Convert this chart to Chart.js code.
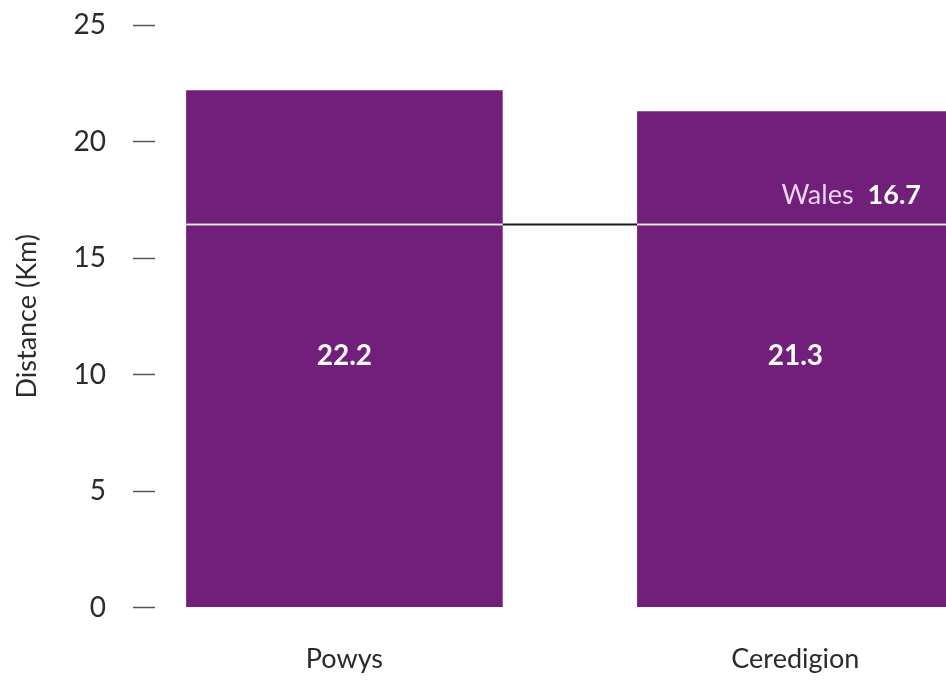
<!DOCTYPE html>
<html>
<head>
<meta charset="utf-8">
<script src="https://cdn.jsdelivr.net/npm/chart.js@4.4.1/dist/chart.umd.min.js"></script>
<style>
  html, body { margin: 0; padding: 0; background: #fff; overflow: hidden; }
  #wrap { width: 946px; height: 681px; }
</style>
</head>
<body>
<div id="wrap"><canvas id="distChart"></canvas></div>
<script>
// data
const areas = ['Powys', 'Ceredigion'];
const distances = [22.2, 21.3];
const walesAvg = [16.45];       // where the line sits on the picture
const walesText = ['16.7'];     // what the label says
const yTicks = [0, 5, 10, 15, 20, 25];

const purple = '#711f7b';
const font = 'Lato, "Open Sans", sans-serif';

// wales line + labels inside bars
const barLabels = {
  id: 'barLabels',
  afterDatasetsDraw(chart) {
    const ctx = chart.ctx;
    const y = chart.scales.y;
    const bars = chart.getDatasetMeta(0).data;
    const ly = Math.round(y.getPixelForValue(walesAvg[0])) + 0.5;
    const first = bars[0], last = bars[bars.length - 1];
    const area = chart.chartArea;

    ctx.save();
    // black line between bars
    ctx.lineWidth = 2;
    ctx.strokeStyle = '#1a1a1a';
    ctx.beginPath();
    ctx.moveTo(first.x - first.width / 2, ly);
    ctx.lineTo(Math.min(last.x + last.width / 2, area.right), ly);
    ctx.stroke();
    // white over the bars
    ctx.strokeStyle = '#f3e6f4';
    bars.forEach(b => {
      ctx.beginPath();
      ctx.moveTo(b.x - b.width / 2, ly);
      ctx.lineTo(Math.min(b.x + b.width / 2, area.right), ly);
      ctx.stroke();
    });

    // value labels
    ctx.fillStyle = '#ffffff';
    ctx.textAlign = 'center';
    ctx.textBaseline = 'middle';
    ctx.font = 'bold 28px ' + font;
    bars.forEach((b, i) => {
      ctx.fillText(distances[i].toFixed(1), b.x, y.getPixelForValue(10.8));
    });

    // Wales label
    ctx.textAlign = 'right';
    ctx.textBaseline = 'alphabetic';
    ctx.font = 'bold 27px ' + font;
    const rx = area.right - 25;
    ctx.fillText(walesText[0], rx, ly - 21);
    const w = ctx.measureText(walesText[0]).width;
    ctx.font = '27px ' + font;
    ctx.fillStyle = '#ead6ec';
    ctx.fillText('Wales', rx - w - 14, ly - 21);
    ctx.restore();
  }
};

const ctx = document.getElementById('distChart').getContext('2d');
const distChart = new Chart(ctx, {
  type: 'bar',
  data: {
    datasets: [{
      data: distances.map((v, i) => ({ x: i, y: v })),
      backgroundColor: purple,
      borderWidth: 0,
      categoryPercentage: 1,
      barPercentage: 0.702
    }]
  },
  options: {
    responsive: true,
    maintainAspectRatio: false,
    animation: false,
    layout: { padding: { top: 25, right: 0, bottom: 8, left: 0 } },
    plugins: {
      legend: { display: false },
      tooltip: { enabled: false }
    },
    scales: {
      x: {
        type: 'linear',
        offset: false,
        min: -0.42,
        max: 1.334,
        afterBuildTicks: s => { s.ticks = areas.map((a, i) => ({ value: i })); },
        afterFit: s => { s.height = 65.5; },
        grid: { display: false, drawTicks: false, offset: false },
        border: { display: false },
        ticks: {
          padding: 36,
          maxRotation: 0,
          minRotation: 0,
          autoSkip: false,
          color: '#2b2b2b',
          font: { family: font, size: 27 },
          callback: v => areas[v]
        }
      },
      y: {
        min: 0,
        max: 25,
        afterBuildTicks: s => { s.ticks = yTicks.map(v => ({ value: v })); },
        afterFit: s => { s.width = 155; s.paddingTop = 0; s.paddingBottom = 0; },
        grid: {
          drawOnChartArea: false,
          drawTicks: true,
          tickLength: 22,
          tickWidth: 1.5,
          tickColor: '#555'
        },
        border: { display: false },
        ticks: {
          padding: 27,
          color: '#2b2b2b',
          font: { family: font, size: 28 }
        },
        title: {
          display: true,
          text: 'Distance (Km)',
          color: '#2b2b2b',
          font: { family: font, size: 27 },
          padding: { top: 11, bottom: 0 }
        }
      }
    }
  },
  plugins: [barLabels]
});
</script>
</body>
</html>
